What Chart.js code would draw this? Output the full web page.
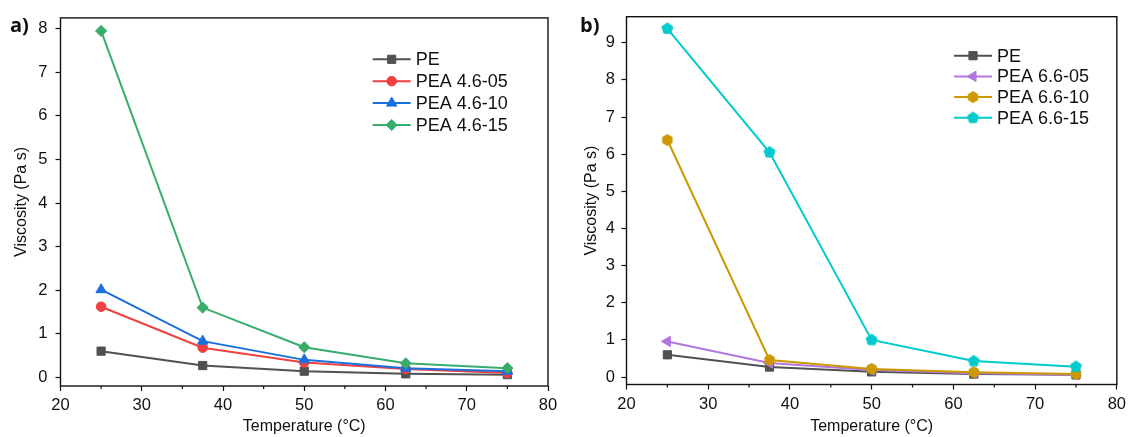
<!DOCTYPE html>
<html>
<head>
<meta charset="utf-8">
<script src="https://cdn.jsdelivr.net/npm/chart.js@4.4.1/dist/chart.umd.min.js"></script>
<style>
    html, body { margin: 0; padding: 0; background: #fff; }
    #wrap { position: relative; width: 1131px; height: 437px; overflow: hidden; }
    .panel { position: absolute; top: 0; height: 437px; }
    #pa { left: 0; width: 565px; }
    #pb { left: 565px; width: 566px; }
    .tag { position: absolute; font: bold 20px "Open Sans", "Liberation Sans", sans-serif; color: #111; line-height: 1; }
</style>
</head>
<body>
<div id="wrap">
    <div class="panel" id="pa"><canvas id="chartA"></canvas></div>
    <div class="panel" id="pb"><canvas id="chartB"></canvas></div>
    <div class="tag" style="left:10px; top:15px;">a)</div>
    <div class="tag" style="left:580px; top:15px;">b)</div>
</div>
<script>
// temperatures (°C) shared by both panels
const temps = [25, 37.5, 50, 62.5, 75];
const xTickVals = [20, 30, 40, 50, 60, 70, 80];
const yTickValsA = [0, 1, 2, 3, 4, 5, 6, 7, 8];
const yTickValsB = [0, 1, 2, 3, 4, 5, 6, 7, 8, 9];

// viscosity (Pa s)
const pe       = [0.60, 0.27, 0.14, 0.08, 0.06];
// panel a
const pea46_05 = [1.62, 0.68, 0.34, 0.19, 0.10];
const pea46_10 = [2.01, 0.83, 0.40, 0.21, 0.14];
const pea46_15 = [7.95, 1.60, 0.69, 0.32, 0.21];
// panel b
const pea66_05 = [0.96, 0.38, 0.19, 0.10, 0.06];
const pea66_10 = [6.38, 0.46, 0.22, 0.13, 0.08];
const pea66_15 = [9.38, 6.05, 1.00, 0.43, 0.28];

const FONT = '"Liberation Sans", Arial, sans-serif';
Chart.defaults.font.family = FONT;
Chart.defaults.color = "#111";

// polygon markers (pentagon / hexagon) for the library to stamp at each point
function polyMarker(sides, r, color) {
    const size = Math.ceil(r * 2 + 3);
    const c = document.createElement("canvas");
    c.width = c.height = size;
    const g = c.getContext("2d");
    g.beginPath();
    for (let k = 0; k < sides; k++) {
        const a = -Math.PI / 2 + k * 2 * Math.PI / sides;
        const px = size / 2 + r * Math.cos(a);
        const py = size / 2 + r * Math.sin(a);
        if (k === 0) g.moveTo(px, py); else g.lineTo(px, py);
    }
    g.closePath();
    g.fillStyle = color;
    g.fill();
    g.strokeStyle = color;
    g.lineWidth = 1;
    g.stroke();
    return c;
}

function series(label, vals, color, style, radius, rotation, idx) {
    return {
        label,
        data: temps.map((t, i) => ({ x: t, y: vals[i] })),
        borderColor: color,
        backgroundColor: color,
        pointBackgroundColor: color,
        pointBorderColor: color,
        pointStyle: style,
        pointRadius: radius,
        pointRotation: rotation || 0,
        pointBorderWidth: 1,
        borderWidth: 2,
        tension: 0,
        order: 10 - idx   // later series on top, like the original
    };
}

// box around the plot area + minor x ticks
const framePlugin = {
    id: "frame",
    beforeDatasetsDraw(chart) {
        const { ctx, chartArea: a } = chart;
        ctx.save();
        ctx.strokeStyle = "#111";
        ctx.lineWidth = 1.4;
        ctx.strokeRect(a.left, a.top, a.right - a.left, a.bottom - a.top);
        const xs = chart.scales.x;
        ctx.lineWidth = 1.2;
        ctx.beginPath();
        for (let i = 0; i < xs.ticks.length - 1; i++) {
            const mid = (xs.ticks[i].value + xs.ticks[i + 1].value) / 2;
            const px = xs.getPixelForValue(mid);
            ctx.moveTo(px, a.bottom);
            ctx.lineTo(px, a.bottom + 3);
        }
        ctx.stroke();
        ctx.restore();
    }
};

// Origin-style legend: line with the marker in the middle
const lineLegendPlugin = {
    id: "lineLegend",
    afterDraw(chart, args, opts) {
        const { ctx } = chart;
        const drawPoint = Chart.helpers && Chart.helpers.drawPoint;
        ctx.save();
        ctx.font = opts.fontSize + "px " + FONT;
        ctx.textBaseline = "middle";
        chart.data.datasets.forEach((ds, i) => {
            const y = opts.y + i * opts.dy;
            ctx.strokeStyle = ds.borderColor;
            ctx.lineWidth = 2;
            ctx.beginPath();
            ctx.moveTo(opts.x, y);
            ctx.lineTo(opts.x + opts.lineLen, y);
            ctx.stroke();
            ctx.fillStyle = ds.pointBackgroundColor;
            ctx.strokeStyle = ds.pointBorderColor;
            ctx.lineWidth = 1;
            if (drawPoint) {
                drawPoint(ctx, { pointStyle: ds.pointStyle, rotation: ds.pointRotation, radius: ds.pointRadius, borderWidth: 1 },
                    opts.x + opts.lineLen / 2, y);
            }
            ctx.fillStyle = "#111";
            ctx.fillText(ds.label, opts.x + opts.lineLen + opts.gap, y + 1);
        });
        ctx.restore();
    }
};

function makeChart(id, datasets, cfg) {
    const ctx = document.getElementById(id).getContext("2d");
    return new Chart(ctx, {
        type: "line",
        data: { datasets },
        plugins: [framePlugin, lineLegendPlugin],
        options: {
            responsive: true,
            maintainAspectRatio: false,
            animation: false,
            layout: { padding: { left: 0, right: cfg.padRight, top: 16.7, bottom: 0 } },
            plugins: {
                legend: { display: false },
                tooltip: { enabled: false },
                lineLegend: cfg.legend
            },
            scales: {
                x: {
                    type: "linear",
                    min: 20,
                    max: 80,
                    afterBuildTicks: (s) => { s.ticks = xTickVals.map(v => ({ value: v })); },
                    afterFit: (s) => { s.height = cfg.xHeight; },
                    grid: { display: true, drawOnChartArea: false, tickLength: 5, tickColor: "#111", tickWidth: 1.2 },
                    border: { display: false },
                    ticks: { font: { size: 16.5 }, color: "#111", padding: 5, maxRotation: 0, autoSkip: false },
                    title: { display: true, text: "Temperature (°C)", font: { size: 16 }, color: "#111", padding: { top: 0, bottom: 1 } }
                },
                y: {
                    min: -0.2,
                    max: cfg.yMax,
                    afterBuildTicks: (s) => { s.ticks = cfg.yTicks.map(v => ({ value: v })); },
                    afterFit: (s) => { s.width = cfg.yWidth; },
                    grid: { display: true, drawOnChartArea: false, tickLength: 5, tickColor: "#111", tickWidth: 1.2 },
                    border: { display: false },
                    ticks: { font: { size: 16.5 }, color: "#111", padding: cfg.yPad, autoSkip: false },
                    title: { display: true, text: "Viscosity (Pa s)", font: { size: 16 }, color: "#111", padding: { top: cfg.yTitlePad, bottom: 0 } }
                }
            }
        }
    });
}

const datasetsA = [
    series("PE", pe, "#515151", "rect", 5.8, 0, 0),
    series("PEA 4.6-05", pea46_05, "#F14040", "circle", 4.8, 0, 1),
    series("PEA 4.6-10", pea46_10, "#1A6FDF", "triangle", 6, 0, 2),
    series("PEA 4.6-15", pea46_15, "#37AD6B", "rectRot", 5.6, 0, 3)
];

const datasetsB = [
    series("PE", pe, "#515151", "rect", 5.8, 0, 0),
    series("PEA 6.6-05", pea66_05, "#B177DE", "triangle", 6, -90, 1),
    series("PEA 6.6-10", pea66_10, "#CC9900", polyMarker(6, 5.5, "#CC9900"), 5.5, 0, 2),
    series("PEA 6.6-15", pea66_15, "#00CBCC", polyMarker(5, 5.8, "#00CBCC"), 5.5, 0, 3)
];

makeChart("chartA", datasetsA, {
    padRight: 17, xHeight: 51, yWidth: 60.5, yMax: 8.25, yTicks: yTickValsA, yPad: 8, yTitlePad: 11.8,
    legend: { x: 372.7, y: 59.3, dy: 21.9, lineLen: 38, gap: 5, fontSize: 18 }
});

makeChart("chartB", datasetsB, {
    padRight: 11, xHeight: 52.5, yWidth: 61.5, yMax: 9.7, yTicks: yTickValsB, yPad: 6.5, yTitlePad: 16.9,
    legend: { x: 954 - 565, y: 55.7, dy: 20.7, lineLen: 38, gap: 5, fontSize: 18 }
});
</script>
</body>
</html>
